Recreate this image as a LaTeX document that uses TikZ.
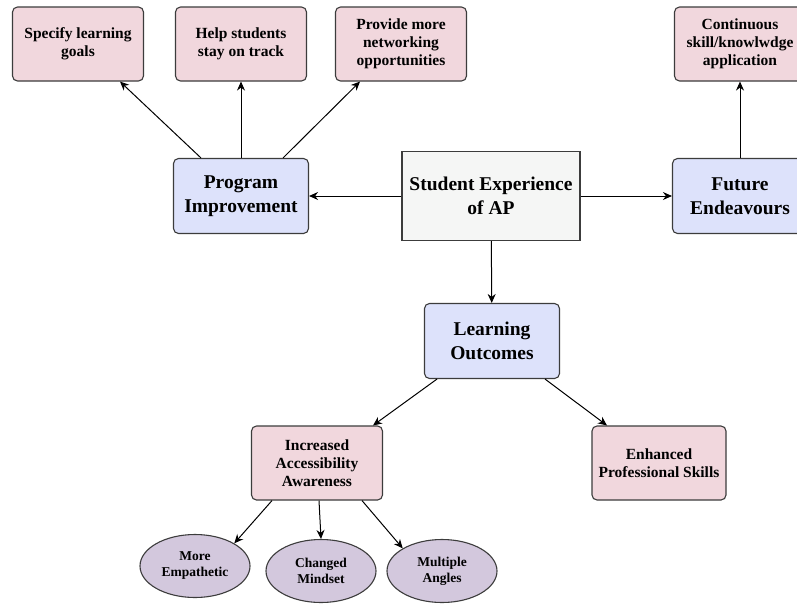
\documentclass[tikz,border=0pt]{standalone}
\usepackage{fontspec}
\setmainfont{Liberation Serif}
\usetikzlibrary{arrows.meta,shapes.geometric}
\definecolor{pinkbox}{RGB}{241,215,221}
\definecolor{bluebox}{RGB}{221,226,251}
\definecolor{greybox}{RGB}{245,246,245}
\definecolor{violetbox}{RGB}{211,200,221}
\definecolor{edgegrey}{RGB}{60,60,60}
\begin{document}
\begin{tikzpicture}[x=1pt,y=-1pt,
    box/.style={draw=edgegrey,line width=1.1pt,rounded corners=5pt,align=center,font=\bfseries,inner sep=0pt},
    leafbox/.style={box,fill=pinkbox,minimum width=131pt,minimum height=74pt,font=\bfseries\fontsize{15.5}{18}\selectfont},
    topicbox/.style={box,fill=bluebox,minimum width=135pt,minimum height=75pt,font=\bfseries\fontsize{19.5}{23.5}\selectfont},
    oval/.style={ellipse,draw=edgegrey,line width=1.1pt,fill=violetbox,minimum width=110pt,minimum height=63pt,inner sep=0pt,align=center,font=\bfseries\fontsize{13.5}{16}\selectfont},
    link/.style={draw=black,line width=1pt,-{Stealth[length=9pt,width=8pt]}}]
\clip (0,0) rectangle (797,603);
\fill[white] (0,0) rectangle (797,603);

\node[box,fill=greybox,rounded corners=0pt,minimum width=178pt,minimum height=89pt,font=\bfseries\fontsize{19.5}{24}\selectfont] (core) at (491,196) {Student Experience\\of AP};

\node[topicbox] (program) at (241,196) {Program\\Improvement};
\node[topicbox] (future) at (740,196) {Future\\Endeavours};
\node[topicbox] (outcomes) at (492,341) {Learning\\Outcomes};

\node[leafbox] (goals) at (78,44) {Specify learning\\goals};
\node[leafbox] (track) at (241,44) {Help students\\stay on track};
\node[leafbox] (network) at (401,44) {Provide more\\networking\\opportunities};
\node[leafbox] (apply) at (740,44) {Continuous\\skill/knowlwdge\\application};

\node[leafbox] (aware) at (317,463) {Increased\\Accessibility\\Awareness};
\node[leafbox,minimum width=134pt] (skills) at (659,463) {Enhanced\\Professional Skills};

\node[oval] (empathy) at (195,566) {More\\Empathetic};
\node[oval] (mindset) at (321,571) {Changed\\Mindset};
\node[oval] (angles) at (442,571) {Multiple\\Angles};

\draw[link] (core) -- (program);
\draw[link] (core) -- (future);
\draw[link] (core) -- (outcomes);
\draw[link] ([xshift=-40pt]program.north) -- ([xshift=42pt]goals.south);
\draw[link] (program.north) -- (track.south);
\draw[link] ([xshift=42pt]program.north) -- ([xshift=-41pt]network.south);
\draw[link] (future.north) -- (apply.south);
\draw[link] ([xshift=-55pt]outcomes.south) -- ([xshift=56pt]aware.north);
\draw[link] ([xshift=53pt]outcomes.south) -- ([xshift=-52pt]skills.north);
\draw[link] ([xshift=-45pt]aware.south) -- (empathy.north east);
\draw[link] ([xshift=2pt]aware.south) -- (mindset.north);
\draw[link] ([xshift=45pt]aware.south) -- (angles.north west);
\end{tikzpicture}
\end{document}
